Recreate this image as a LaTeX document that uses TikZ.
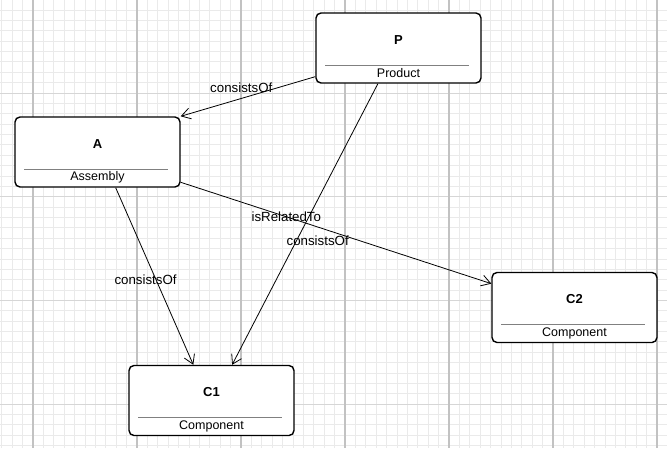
\documentclass[tikz,border=0pt]{standalone}
\usepackage{fontspec}
\setmainfont{Liberation Sans}
\usetikzlibrary{arrows.meta, positioning, calc}

\definecolor{minorgrid}{HTML}{EAEAEA}
\definecolor{majorgridv}{HTML}{C2C2C2}
\definecolor{majorgridh}{HTML}{D6D6D6}
\definecolor{dividergray}{HTML}{808080}

\tikzset{
    classbox/.style={draw, line width=1.4pt, rounded corners=5pt, fill=white,
        minimum width=165pt, minimum height=70pt, inner sep=0pt},
    titletext/.style={font=\fontsize{13}{15}\selectfont\bfseries, inner sep=0pt},
    subtext/.style={font=\fontsize{12.5}{15}\selectfont, inner sep=0pt},
    edgelabel/.style={font=\fontsize{13.3}{15}\selectfont, inner sep=0pt},
    relation/.style={draw, line width=0.8pt, -{Straight Barb[length=9pt, width=11pt, line width=0.8pt]}}
}

\begin{document}
\begin{tikzpicture}[x=1pt, y=-1pt]
    \useasboundingbox (0,0) rectangle (667,448);
    \fill[white] (0,0) rectangle (667,448);
    % background grid
    \foreach \i in {0,...,64}
        \draw[minorgrid, line width=0.8pt] ({1.8+10.4*\i},0) -- ({1.8+10.4*\i},448);
    \foreach \j in {0,...,43}
        \draw[minorgrid, line width=0.8pt] (0,{-0.33+10.37*\j}) -- (667,{-0.33+10.37*\j});
    \foreach \y in {93,196.7,300.4,404.1}
        \draw[majorgridh, line width=1pt] (0,\y) -- (667,\y);
    \foreach \x in {33,137,241,345,449,553,657}
        \draw[majorgridv, line width=1.2pt] (\x,0) -- (\x,448);

    % classes
    \node[classbox] (P) at (398.5,48) {};
    \node[classbox] (A) at (97.5,152) {};
    \node[classbox] (C1) at (211.5,400.5) {};
    \node[classbox] (C2) at (574.5,307.5) {};

    \foreach \n/\t/\s in {P/P/Product, A/A/Assembly, C1/C1/Component, C2/C2/Component} {
        \node[titletext] at ([yshift=8pt]\n.center) {\t};
        \draw[dividergray, line width=0.9pt] ([xshift=10pt, yshift=-17pt]\n.west) -- ([xshift=-13pt, yshift=-17pt]\n.east);
        \node[subtext] at ([yshift=-25.5pt]\n.center) {\s};
    }

    % relations
    \draw[relation] (P.199) -- node[edgelabel, pos=0.55, yshift=11pt] {consistsOf} (A.north east);
    \draw[relation] (P.240) -- node[edgelabel, pos=0.557, xshift=21pt] {consistsOf} (C1.60);
    \draw[relation] (A.297) -- node[edgelabel, pos=0.52, xshift=-10.5pt] {consistsOf} (C1.117);
    \draw[relation] (A.340) -- node[edgelabel, pos=0.34] {isRelatedTo} (C2.164);
\end{tikzpicture}
\end{document}
